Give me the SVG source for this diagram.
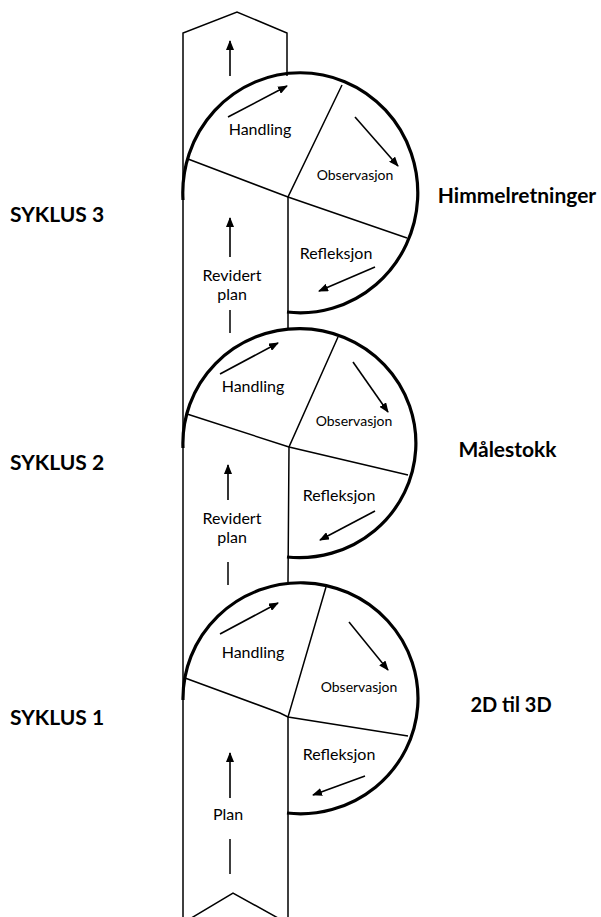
<svg xmlns="http://www.w3.org/2000/svg" width="601" height="917" viewBox="0 0 601 917">
<style>
.bg{fill:#fff}
.thin{fill:none;stroke:#000;stroke-width:1.5}
.arc{fill:none;stroke:#000;stroke-width:3.2}
.arr{fill:none;stroke:#000;stroke-width:1.6;marker-end:url(#ah)}
.t{font-family:Lato,"Open Sans",sans-serif;font-size:16px;fill:#000;text-anchor:middle}
.obs{font-size:14px}
.b{font-family:Lato,"Open Sans",sans-serif;font-weight:bold;font-size:21px;fill:#000}
</style>
<defs>
<marker id="ah" markerWidth="10" markerHeight="8" refX="9" refY="4" orient="auto" markerUnits="userSpaceOnUse">
<path d="M0,0 L10,4 L0,8 Z" fill="#000"/>
</marker>
</defs>
<rect class="bg" width="601" height="917"/>
<g id="column">
<polyline class="thin" points="183,917 183,33 237,12 287,33 287,76"/>
<polyline class="thin" points="183,923 233,893 287,923"/>
</g>
<g id="cycle3">
<path class="arc" d="M287,312 A117.5,120 0 1 0 183,200"/>
<polyline class="thin" points="188,159 288,197 407,238"/>
<polyline class="thin" points="342,85 288,197 288,328"/>
<text class="t" x="260" y="135">Handling</text>
<text class="t obs" x="355" y="180">Observasjon</text>
<text class="t" x="336" y="259">Refleksjon</text>
<text class="t" x="232" y="281">Revidert</text>
<text class="t" x="232" y="300">plan</text>
</g>
<g id="cycle2">
<path class="arc" d="M287,557 A116.5,114.5 0 1 0 183,448"/>
<polyline class="thin" points="187,414 289,447 408,475"/>
<polyline class="thin" points="338,337 289,447 288,582"/>
<text class="t" x="253" y="392">Handling</text>
<text class="t obs" x="354" y="426">Observasjon</text>
<text class="t" x="339" y="501">Refleksjon</text>
<text class="t" x="232" y="524">Revidert</text>
<text class="t" x="232" y="543">plan</text>
</g>
<g id="cycle1">
<path class="arc" d="M287,813 A117.5,115.5 0 1 0 183,700"/>
<polyline class="thin" points="185,678 280,713 288,717 408,736"/>
<polyline class="thin" points="326,587 288,717 288,917"/>
<text class="t" x="253" y="658">Handling</text>
<text class="t obs" x="359" y="692">Observasjon</text>
<text class="t" x="339" y="760">Refleksjon</text>
<text class="t" x="228" y="820">Plan</text>
</g>
<g id="connectors">
<line class="arr" x1="230" y1="76" x2="230" y2="41"/>
<line class="arr" x1="228" y1="117" x2="287" y2="86"/>
<line class="arr" x1="355" y1="117" x2="398" y2="166"/>
<line class="arr" x1="375" y1="267" x2="319" y2="291"/>
<line class="arr" x1="230" y1="257" x2="230" y2="218"/>
<line class="thin" x1="230" y1="310" x2="230" y2="333"/>
<line class="arr" x1="220" y1="374" x2="278" y2="343"/>
<line class="arr" x1="353" y1="362" x2="388" y2="412"/>
<line class="arr" x1="375" y1="511" x2="320" y2="540"/>
<line class="arr" x1="228" y1="500" x2="228" y2="465"/>
<line class="thin" x1="228" y1="562" x2="228" y2="585"/>
<line class="arr" x1="220" y1="634" x2="278" y2="603"/>
<line class="arr" x1="349" y1="622" x2="388" y2="670"/>
<line class="arr" x1="365" y1="776" x2="313" y2="795"/>
<line class="arr" x1="230" y1="798" x2="230" y2="753"/>
<line class="thin" x1="230" y1="839" x2="230" y2="874"/>
</g>
<g id="labels">
<text class="b" x="10" y="222">SYKLUS 3</text>
<text class="b" x="10" y="470">SYKLUS 2</text>
<text class="b" x="10" y="725">SYKLUS 1</text>
<text class="b" x="517" y="203" text-anchor="middle">Himmelretninger</text>
<text class="b" x="507.5" y="457" text-anchor="middle">Målestokk</text>
<text class="b" x="511" y="712" text-anchor="middle" style="font-size:20px">2D til 3D</text>
</g>
</svg>
